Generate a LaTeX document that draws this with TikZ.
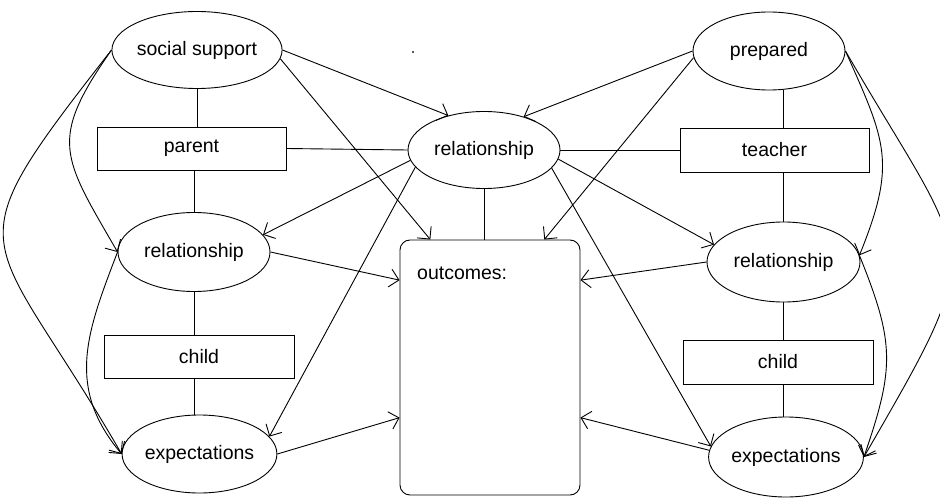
\documentclass[tikz,border=0pt]{standalone}
\usepackage{fontspec}
\setmainfont{Liberation Sans}
\usetikzlibrary{shapes.geometric,arrows.meta}
\begin{document}
\begin{tikzpicture}[x=1pt,y=-1pt,
  every node/.style={font=\fontsize{19.5}{22}\selectfont},
  oval/.style={draw, ellipse, line width=0.9pt, minimum width=152pt, minimum height=77pt, inner sep=0pt},
  box/.style={draw, rectangle, line width=0.9pt, minimum width=189pt, minimum height=43pt, inner sep=0pt},
  link/.style={line width=0.9pt},
  arr/.style={line width=0.9pt, -{Straight Barb[length=9pt,width=18pt]}},
]
\useasboundingbox (0,0) rectangle (940,500);

% parent / child column
\node[oval] (ss) at (197,50) {social support};
\node[box] (par) at (191.5,148.5) {parent};
\node[oval, minimum height=79pt] (relL) at (194,252) {relationship};
\node[box, minimum width=190pt] (chL) at (199,356.5) {child};
\node[oval, minimum width=153pt, minimum height=78pt] (expL) at (199.5,454) {expectations};

% centre
\node[oval] (relC) at (484,150) {relationship};
\node[draw, line width=0.9pt, rounded corners=10pt, minimum width=180pt, minimum height=255pt] (out) at (490,367.5) {};
\node[anchor=base west, inner sep=0pt] (outlbl) at (417,279) {outcomes:};

% teacher / child column
\node[oval, minimum height=78pt] (prep) at (769,51) {prepared};
\node[box, minimum height=44pt] (tea) at (774.5,150) {teacher};
\node[oval, minimum width=153pt, minimum height=80pt] (relR) at (783.5,262) {relationship};
\node[box, minimum width=190pt, minimum height=44pt] (chR) at (778,362) {child};
\node[oval, minimum height=80pt] (expR) at (786,457) {expectations};

% plain links
\draw[link] (ss.south) -- (ss.south |- par.north);
\draw[link] (par.south -| relL.north) -- (relL.north);
\draw[link] (relL.south) -- (relL.south |- chL.north);
\draw[link] (chL.south -| relL.north) -- (relL.north |- expL.north);
\draw[link] (par.east) -- (relC.west);
\draw[link] (relC.east) -- (tea.west);
\draw[link] (relC.south) -- (out.north -| relC.south);
\draw[link] (prep.south -| relR.north) -- (tea.north -| relR.north);
\draw[link] (tea.south -| relR.north) -- (relR.north);
\draw[link] (relR.south) -- (relR.south |- chR.north);
\draw[link] (chR.south -| relR.south) -- (relR.south |- expR.north);

% left-hand arrows
\draw[arr] (ss.east) -- (relC.136);
\draw[arr] (ss.-6) -- (out.115);
\draw[arr] (ss.west) to[out=235, in=120, looseness=1.4] (relL.west);
\draw[arr] (ss.west) to[out=232, in=120, looseness=1.7] (expL.west);
\draw[arr] (relL.west) to[out=249, in=130, looseness=1.1] (expL.west);
\draw[arr] (relC.188) -- (relL.14);
\draw[arr] (relC.194) -- (expL.14);
\draw[arr] (relL.east) -- (out.136);
\draw[arr] (expL.east) -- (out.209);

% right-hand arrows
\draw[arr] (prep.west) -- (relC.40);
\draw[arr] (prep.185) -- (out.67);
\draw[arr] (prep.east) to[out=-66, in=68, looseness=1.25] (relR.5);
\draw[arr] (prep.east) to[out=-60, in=60, looseness=1.6] (expR.east);
\draw[arr] (relR.5) to[out=-68, in=71, looseness=1.2] (expR.east);
\draw[arr] (relC.-7) -- (relR.166);
\draw[arr] (relC.-15) -- (expR.172);
\draw[arr] (relR.west) -- (out.44);
\draw[arr] (expR.175) -- (out.-29);

% speck
\fill[black!65] (412,51) rectangle (414,53);
\end{tikzpicture}
\end{document}
